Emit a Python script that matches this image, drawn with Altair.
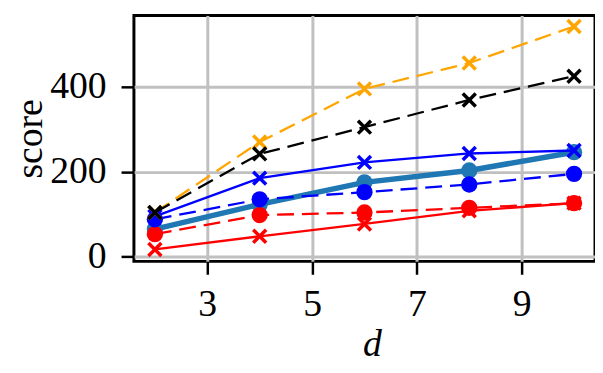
import altair as alt
import pandas as pd

d = [2, 4, 6, 8, 10]
orange_x = [104, 270, 395, 456, 542]
black_x = [104, 242, 305, 369, 425]
blue_x = [95, 185, 222, 243, 250]
steel_o = [65, 123, 175, 203, 246]
blue_o = [88, 135, 152, 170, 195]
red_o = [53, 98, 104, 115, 126]
red_x = [17, 48, 77, 108, 126]

FONT = "Liberation Serif"
XPATH = "M-1,-1L1,1M1,-1L-1,1"

xenc = alt.X("d:Q", scale=alt.Scale(domain=[1.6, 10.4], nice=False, zero=False),
             axis=alt.Axis(values=[3, 5, 7, 9], title="d", titleFontStyle="italic",
                           titleX=240, titleY=95, titleBaseline="alphabetic",
                           titleAlign="center"))
yenc = alt.Y("score:Q", scale=alt.Scale(domain=[-11, 568], nice=False, zero=False),
             axis=alt.Axis(values=[0, 200, 400], title="score", titleAngle=270,
                           titleX=-104, titleY=124, titleBaseline="middle",
                           titleAlign="center"))


def series(vals, color, width, dash, marker):
    df = pd.DataFrame({"d": d, "score": vals})
    base = alt.Chart(df)
    line_kwargs = dict(color=color, strokeWidth=width)
    if dash:
        line_kwargs["strokeDash"] = [17, 8]
    line = base.mark_line(**line_kwargs).encode(x=xenc, y=yenc)
    if marker == "x":
        pts = base.mark_point(shape=XPATH, filled=False, strokeWidth=3.5, size=170,
                              color=color, opacity=1).encode(x=xenc, y=yenc)
    else:
        pts = base.mark_circle(size=270, color=color, opacity=1).encode(x=xenc, y=yenc)
    return [line, pts]


layers = []
layers += series(steel_o, "#1f77b4", 5.5, False, "o")
layers += series(red_x, "#ff0000", 2.3, False, "x")
layers += series(red_o, "#ff0000", 2.3, True, "o")
layers += series(blue_x, "#0000ff", 2.3, False, "x")
layers += series(blue_o, "#0000ff", 2.3, True, "o")
layers += series(orange_x, "#ffa500", 2.3, True, "x")
layers += series(black_x, "#000000", 2.3, True, "x")

chart = alt.layer(*layers).properties(
    width=465, height=248,
    padding={"left": 127, "top": 6, "right": 0, "bottom": 103},
    autosize=alt.AutoSizeParams(type="none"),
).configure_view(
    stroke="black", strokeWidth=3
).configure_axis(
    domain=False, grid=True, gridColor="#c0c0c0", gridWidth=3,
    tickColor="black", tickWidth=2.5, tickSize=13,
    labelFont=FONT, labelFontSize=38, labelColor="black", labelPadding=12,
    titleFont=FONT, titleFontSize=38, titleColor="black", titleFontWeight="normal",
).configure_axisY(labelPadding=15)

chart.save("out.html", embed_options={"renderer": "svg", "actions": False})
